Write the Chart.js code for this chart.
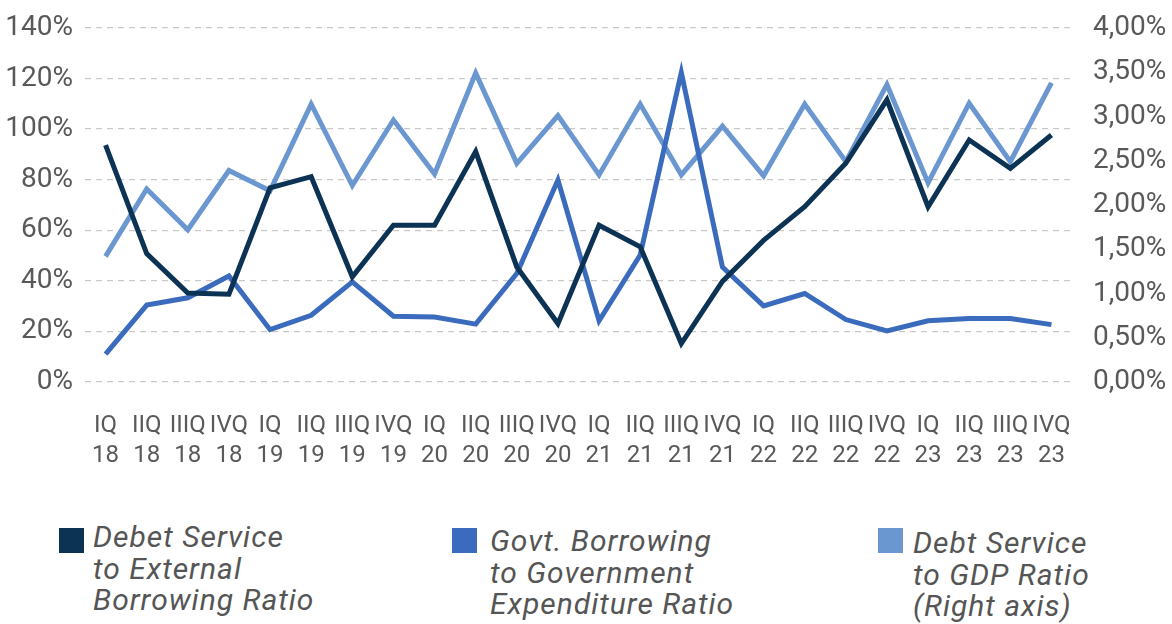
<!DOCTYPE html>
<html>
<head>
<meta charset="utf-8">
<script src="https://cdn.jsdelivr.net/npm/chart.js@4.4.1/dist/chart.umd.min.js"></script>
<style>
  body { margin: 0; background: #fff; }
  #wrap { position: relative; width: 1172px; height: 624px; overflow: hidden; }
  #chart { position: absolute; left: 0; top: 0; }
  .item { position: absolute; font-family: Roboto, sans-serif; font-style: italic; font-size: 30px; letter-spacing: 1px; line-height: 31.5px; color: #555; white-space: nowrap; }
  .box { position: absolute; width: 25px; height: 25px; }
</style>
</head>
<body>
<div id="wrap">
  <canvas id="chart" width="1172" height="490"></canvas>
  <div class="box" style="left:59px;top:528px;background:#0c3354"></div>
  <div class="item" style="left:93px;top:521px">Debet Service<br>to External<br>Borrowing Ratio</div>
  <div class="box" style="left:452px;top:528px;background:#3b6bbd"></div>
  <div class="item" style="left:490px;top:525px">Govt. Borrowing<br>to Government<br>Expenditure Ratio</div>
  <div class="box" style="left:878px;top:528px;background:#6b97d0"></div>
  <div class="item" style="left:913px;top:527px">Debt Service<br>to GDP Ratio<br>(Right axis)</div>
</div>
<script>
const categories = [
  ["IQ", "18"], ["IIQ", "18"], ["IIIQ", "18"], ["IVQ", "18"],
  ["IQ", "19"], ["IIQ", "19"], ["IIIQ", "19"], ["IVQ", "19"],
  ["IQ", "20"], ["IIQ", "20"], ["IIIQ", "20"], ["IVQ", "20"],
  ["IQ", "21"], ["IIQ", "21"], ["IIIQ", "21"], ["IVQ", "21"],
  ["IQ", "22"], ["IIQ", "22"], ["IIIQ", "22"], ["IVQ", "22"],
  ["IQ", "23"], ["IIQ", "23"], ["IIIQ", "23"], ["IVQ", "23"]
];

// left axis, %
const debtToBorrowing = [93.7, 50.8, 35.2, 34.7, 76.8, 81.2, 41.6, 62.0, 62.0, 91.1, 45.5, 23.1,
  62.0, 53.5, 15.2, 39.8, 56.0, 69.3, 86.5, 111.6, 69.3, 95.7, 84.5, 97.7];
const govtBorrowing = [11.0, 30.4, 33.3, 41.9, 20.7, 26.4, 39.6, 26.0, 25.7, 22.9, 42.9, 79.9,
  24.2, 50.2, 122.4, 45.5, 30.1, 35.0, 24.7, 20.2, 24.2, 25.1, 25.1, 22.7];
// right axis, %
const debtToGdp = [1.42, 2.18, 1.72, 2.39, 2.16, 3.14, 2.22, 2.96, 2.35, 3.49, 2.47, 3.01,
  2.34, 3.14, 2.34, 2.89, 2.33, 3.14, 2.49, 3.36, 2.25, 3.15, 2.49, 3.38];

const leftTicks = [0, 20, 40, 60, 80, 100, 120, 140];
const rightTicks = [0, 0.5, 1, 1.5, 2, 2.5, 3, 3.5, 4];

const tickColor = "#595959";

function fixY(width) {
  return s => {
    s.width = width;
    s.paddingTop = 0;
    s.paddingBottom = 0;
  };
}

new Chart(document.getElementById("chart"), {
  type: "line",
  data: {
    labels: categories,
    datasets: [
      { label: "Debet Service to External Borrowing Ratio", data: debtToBorrowing, borderColor: "#0c3354", yAxisID: "y" },
      { label: "Govt. Borrowing to Government Expenditure Ratio", data: govtBorrowing, borderColor: "#3b6bbd", yAxisID: "y" },
      { label: "Debt Service to GDP Ratio (Right axis)", data: debtToGdp, borderColor: "#6b97d0", yAxisID: "y1" }
    ].map(d => ({ ...d, borderWidth: 5, pointRadius: 0, tension: 0, fill: false }))
  },
  options: {
    responsive: false,
    animation: false,
    layout: { padding: { top: 28, left: 0, right: 0, bottom: 0 } },
    plugins: { legend: { display: false }, tooltip: { enabled: false } },
    scales: {
      x: {
        offset: true,
        grid: { display: false },
        border: { display: false },
        ticks: {
          autoSkip: false, maxRotation: 0, minRotation: 0,
          color: tickColor, padding: 21,
          font: { family: "Roboto", size: 24, lineHeight: 1.25 }
        },
        afterFit: s => { s.height = 108; }
      },
      y: {
        position: "left",
        min: 0, max: 140,
        afterBuildTicks: s => { s.ticks = leftTicks.map(v => ({ value: v })); },
        grid: { color: "#c9c9c9", lineWidth: 1.3, drawTicks: false },
        border: { display: false, dash: [6, 5] },
        ticks: {
          color: tickColor, padding: 12,
          font: { family: "Roboto", size: 28 },
          callback: v => v + "%"
        },
        afterFit: fixY(85)
      },
      y1: {
        position: "right",
        min: 0, max: 4,
        afterBuildTicks: s => { s.ticks = rightTicks.map(v => ({ value: v })); },
        grid: { display: false, drawTicks: false },
        border: { display: false },
        ticks: {
          color: tickColor, padding: 21,
          font: { family: "Roboto", size: 28 },
          callback: v => v.toFixed(2).replace(".", ",") + "%"
        },
        afterFit: fixY(100)
      }
    }
  }
});
</script>
</body>
</html>
